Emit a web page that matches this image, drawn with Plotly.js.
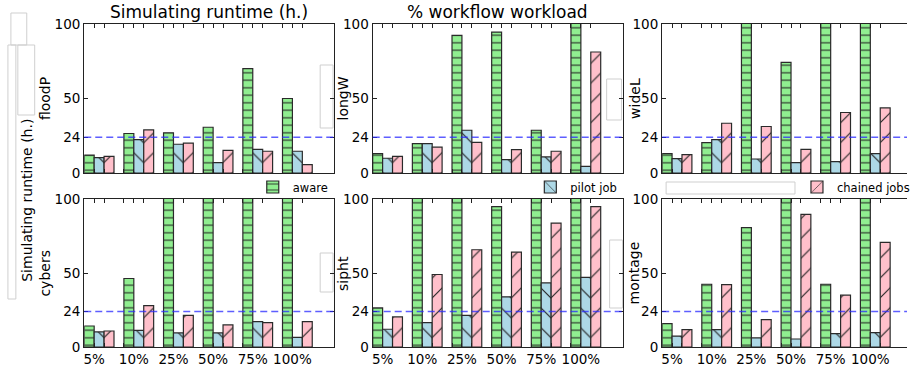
<!DOCTYPE html>
<html><head><meta charset="utf-8">
<script src="https://cdn.plot.ly/plotly-3.0.1.min.js"></script>
<style>html,body{margin:0;padding:0;overflow:hidden;background:#fff}</style>
</head><body><div id="chart" style="width:915px;height:370px"></div>
<script>
// ---- data ----
const categories = ['5%', '10%', '25%', '50%', '75%', '100%'];
const workflows = ['floodP', 'longW', 'wideL', 'cybers', 'sipht', 'montage'];
const seriesNames = ['aware', 'pilot job', 'chained jobs'];
const yTickVals = [0, 24, 50, 100];
const deadline = 24;

// values above 100 run off the top of the chart in the reference
const floodPAware   = [12, 26.5, 27, 30.7, 70, 50];
const floodPPilot   = [10.3, 22.4, 19.3, 7, 15.9, 14.6];
const floodPChained = [11.2, 28.9, 20, 15.2, 14.6, 5.6];

const longWAware   = [13, 19.7, 92.4, 94.6, 28.7, 110];
const longWPilot   = [9.9, 19.7, 28.7, 9, 10.8, 4.5];
const longWChained = [11.2, 17.3, 20.6, 15.7, 14.6, 81.2];

const wideLAware   = [13, 20.4, 110, 74.2, 110, 110];
const wideLPilot   = [9.6, 22.4, 9.4, 7, 7.6, 13];
const wideLChained = [12.3, 33.4, 31.2, 15.9, 40.6, 43.7];

const cybersAware   = [14.2, 46.3, 110, 110, 110, 110];
const cybersPilot   = [10.2, 11.3, 9.5, 9.5, 17.2, 6.5];
const cybersChained = [10.8, 28, 21.4, 14.9, 16.5, 17.2];

const siphtAware   = [26.4, 110, 110, 94.8, 110, 110];
const siphtPilot   = [12, 16.5, 21.4, 33.9, 43.3, 47];
const siphtChained = [20.3, 49, 65.7, 64.1, 83.7, 94.8];

const montageAware   = [15.8, 42.4, 80.6, 110, 42.4, 110];
const montagePilot   = [7.4, 11.7, 6.1, 5.4, 9, 9.7];
const montageChained = [11.7, 42.2, 18.5, 89.6, 35, 70.7];

const panelData = [
  [floodPAware, floodPPilot, floodPChained],
  [longWAware, longWPilot, longWChained],
  [wideLAware, wideLPilot, wideLChained],
  [cybersAware, cybersPilot, cybersChained],
  [siphtAware, siphtPilot, siphtChained],
  [montageAware, montagePilot, montageChained]
];

// ---- styles ----
const W = 915, H = 370;
const FONT = 'DejaVu Sans, sans-serif';
const fills = ['#90EE90', '#ADD8E6', '#FFC0CB'];
const patterns = [
  {shape: '-', size: 7.5, solidity: 0.14},
  {shape: '\\', size: 14, solidity: 0.08},
  {shape: '/', size: 14, solidity: 0.08}
];
const barWidth = 0.25;
const offsets = [-0.25, 0, 0.25];

// pixel layout of the panels
const colPx = [[85, 337], [376, 628], [668, 920]];
const rowPx = [[24, 173], [199, 347]];
const pxPerUnit = 40;
const xStart = -0.25;

const xIdx = categories.map((c, i) => i);
const traces = [];
const layout = {
  width: W, height: H,
  margin: {l: 0, r: 0, t: 0, b: 0},
  paper_bgcolor: '#fff', plot_bgcolor: '#fff',
  font: {family: FONT, color: '#000', size: 13.5},
  barmode: 'overlay',
  shapes: [], annotations: []
};

const tickVals = [], tickText = [];
xIdx.forEach((v, i) => {
  tickVals.push(v - 0.25, v, v + 0.25);
  tickText.push('', categories[i], '');
});

for (let p = 0; p < 6; p++) {
  const r = Math.floor(p / 3), c = p % 3;
  const sfx = p === 0 ? '' : String(p + 1);
  const xa = 'x' + sfx, ya = 'y' + sfx;
  const x0 = colPx[c][0], x1 = Math.min(colPx[c][1], W);
  const xEnd = xStart + (x1 - x0) / pxPerUnit;
  layout['xaxis' + sfx] = {
    domain: [x0 / W, x1 / W], anchor: ya,
    range: [xStart, xEnd], tickmode: 'array',
    tickvals: tickVals, ticktext: tickText,
    ticks: 'inside', ticklen: 4, tickwidth: 1, tickcolor: '#222',
    showline: true, linecolor: '#222', linewidth: 1.2, mirror: 'ticks',
    showgrid: false, zeroline: false, fixedrange: true,
    tickfont: {family: FONT, size: 13.5, color: '#000'},
    showticklabels: r === 1
  };
  layout['yaxis' + sfx] = {
    domain: [1 - rowPx[r][1] / H, 1 - rowPx[r][0] / H], anchor: xa,
    range: [0, 100], tickmode: 'array', tickvals: yTickVals,
    ticks: 'inside', ticklen: 4, tickwidth: 1, tickcolor: '#222',
    showline: true, linecolor: '#222', linewidth: 1.2,
    mirror: c === 2 ? false : 'ticks',
    showgrid: false, zeroline: false, fixedrange: true,
    tickfont: {family: FONT, size: 13.5, color: '#000'}
  };
  for (let s = 0; s < 3; s++) {
    traces.push({
      type: 'bar', x: xIdx, y: panelData[p][s], name: seriesNames[s],
      xaxis: xa, yaxis: ya, width: barWidth, offset: offsets[s],
      marker: {
        color: fills[s],
        line: {color: '#2a2a2a', width: 1.2},
        pattern: Object.assign({fgcolor: '#222', bgcolor: fills[s], fillmode: 'replace'}, patterns[s])
      },
      legend: s === 0 ? 'legend' : 'legend' + (s + 1),
      showlegend: p === 0, hoverinfo: 'skip'
    });
  }
  // 24 h deadline line
  layout.shapes.push({
    type: 'line', xref: xa + ' domain', yref: ya, x0: 0, x1: 1, y0: deadline, y1: deadline,
    line: {color: 'rgba(40,40,255,0.75)', width: 1.5, dash: '7px,4px'}
  });
  // panel workflow label
  const titleX = [45, 346, 640][c];
  layout.annotations.push({
    text: workflows[p], xref: 'paper', yref: 'paper', showarrow: false,
    x: titleX / W, y: 1 - (rowPx[r][0] + rowPx[r][1]) / 2 / H,
    xanchor: 'center', yanchor: 'middle', textangle: -90,
    font: {family: FONT, size: 14, color: '#000'}
  });
}

// headings
layout.annotations.push(
  {text: 'Simulating runtime (h.)', xref: 'paper', yref: 'paper', showarrow: false,
   x: 211 / W, y: 1 - 12.5 / H, xanchor: 'center', yanchor: 'middle',
   font: {family: FONT, size: 17, color: '#000'}},
  {text: '% workflow workload', xref: 'paper', yref: 'paper', showarrow: false,
   x: 502 / W, y: 1 - 12.5 / H, xanchor: 'center', yanchor: 'middle',
   font: {family: FONT, size: 17, color: '#000'}},
  {text: 'Simulating runtime (h.)', xref: 'paper', yref: 'paper', showarrow: false,
   x: 27 / W, y: 1 - 200 / H, xanchor: 'center', yanchor: 'middle', textangle: -90,
   font: {family: FONT, size: 14, color: '#000'}}
);

// leftover empty boxes seen in the reference
const boxes = [[8, 45, 16, 299], [18, 45, 35, 115], [11, 13, 27, 45], [323, 65, 336, 128],
               [612, 79, 627, 120], [672, 182, 802, 194], [323, 253, 336, 292], [615, 240, 628, 308]];
boxes.forEach(b => layout.shapes.push({
  type: 'rect', xref: 'paper', yref: 'paper', layer: 'below',
  x0: b[0] / W, x1: b[2] / W, y0: 1 - b[3] / H, y1: 1 - b[1] / H,
  line: {color: '#cfcfcf', width: 1}, fillcolor: 'rgba(0,0,0,0)'
}));

// legends
const legY = 1 - 187 / H;
const legCommon = {orientation: 'h', yanchor: 'middle', xanchor: 'left', y: legY,
  bgcolor: 'rgba(0,0,0,0)', borderwidth: 0, font: {family: FONT, size: 11.5, color: '#000'}};
layout.legend = Object.assign({}, legCommon, {x: 255 / W});
layout.legend2 = Object.assign({}, legCommon, {x: 535 / W});
layout.legend3 = Object.assign({}, legCommon, {x: 804 / W});

Plotly.newPlot('chart', traces, layout, {displayModeBar: false, staticPlot: true});
</script>
</body></html>
